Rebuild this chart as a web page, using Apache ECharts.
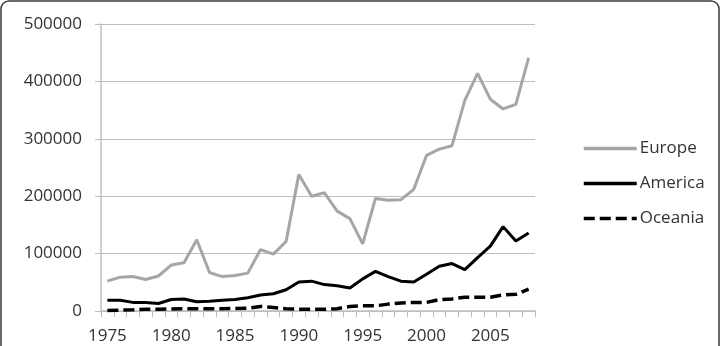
<!DOCTYPE html>
<html>
<head>
<meta charset="utf-8">
<script src="https://cdn.jsdelivr.net/npm/echarts@6/dist/echarts.min.js"></script>
<style>
html, body { margin: 0; padding: 0; background: #fff; }
#chart { width: 721px; height: 346px; }
</style>
</head>
<body>
<div id="chart"></div>
<script>
// years on the x axis
var years = [];
for (var y = 1975; y <= 2008; y++) years.push(String(y));

var europe = [52000, 59000, 60000, 55000, 61000, 80000, 84000, 124000, 67000, 60000,
    62000, 66000, 107000, 99000, 121000, 238000, 200000, 206000, 174000, 161000,
    117000, 196000, 193000, 194000, 212000, 271000, 282000, 288000, 367000, 414000,
    369000, 352000, 360000, 441000];
var america = [18600, 18600, 15000, 15000, 13000, 20000, 21000, 16000, 17000, 18600,
    20000, 23000, 28000, 30000, 37000, 50600, 52000, 46000, 44000, 40000,
    56000, 69000, 60000, 52000, 50600, 64000, 78000, 82600, 72000, 93000,
    113000, 147000, 122000, 136000];
var oceania = [1000, 1500, 2000, 3000, 3000, 3500, 4000, 4000, 4000, 4000,
    4500, 5000, 8000, 6000, 4000, 3000, 3000, 3000, 4000, 8000,
    9000, 9000, 12000, 14000, 15000, 15000, 20000, 21000, 24000, 24000,
    24000, 28000, 29000, 38000];

var textColor = '#333333';
var gridColor = '#bfbfbf';

var myChart = echarts.init(document.getElementById('chart'));
var option = {
    animation: false,
    textStyle: { fontFamily: 'Open Sans' },
    grid: { left: 101, right: 186, top: 24, bottom: 35 },
    legend: {
        orient: 'vertical',
        left: 577,
        top: 135,
        itemWidth: 53,
        itemHeight: 14,
        itemGap: 18,
        itemStyle: { opacity: 0 },
        lineStyle: { width: 3.5 },
        textStyle: { fontSize: 17, color: textColor, padding: [0, 0, 0, -2] },
        data: ['Europe', 'America', 'Oceania']
    },
    graphic: [{
        type: 'rect',
        shape: { x: 1, y: 1, width: 718, height: 360, r: 8 },
        style: { fill: 'none', stroke: '#3a3a3a', lineWidth: 1.5 },
        z: 100
    }],
    xAxis: {
        type: 'category',
        data: years,
        boundaryGap: true,
        axisLine: { lineStyle: { color: gridColor, width: 1.5 } },
        axisTick: { show: true, interval: 0, length: 6, lineStyle: { color: gridColor } },
        axisLabel: { interval: 4, margin: 17, fontSize: 17, color: textColor },
        splitLine: { show: false }
    },
    yAxis: {
        type: 'value',
        min: 0,
        max: 500000,
        interval: 100000,
        axisLine: { show: true, lineStyle: { color: gridColor, width: 1.5 } },
        axisTick: { show: true, length: 6, lineStyle: { color: gridColor } },
        axisLabel: {
            margin: 19, fontSize: 17, color: textColor,
            formatter: function (v) { return String(v); }
        },
        splitLine: { lineStyle: { color: gridColor, width: 1.2 } }
    },
    series: [{
        name: 'Europe',
        type: 'line',
        data: europe,
        symbol: 'none',
        color: '#a6a6a6',
        lineStyle: { width: 3, color: '#a6a6a6' }
    }, {
        name: 'America',
        type: 'line',
        data: america,
        symbol: 'none',
        color: '#000',
        lineStyle: { width: 3, color: '#000' }
    }, {
        name: 'Oceania',
        type: 'line',
        data: oceania,
        symbol: 'none',
        color: '#000',
        lineStyle: { width: 3.5, color: '#000', type: [11, 5] }
    }]
};
myChart.setOption(option);
</script>
</body>
</html>
